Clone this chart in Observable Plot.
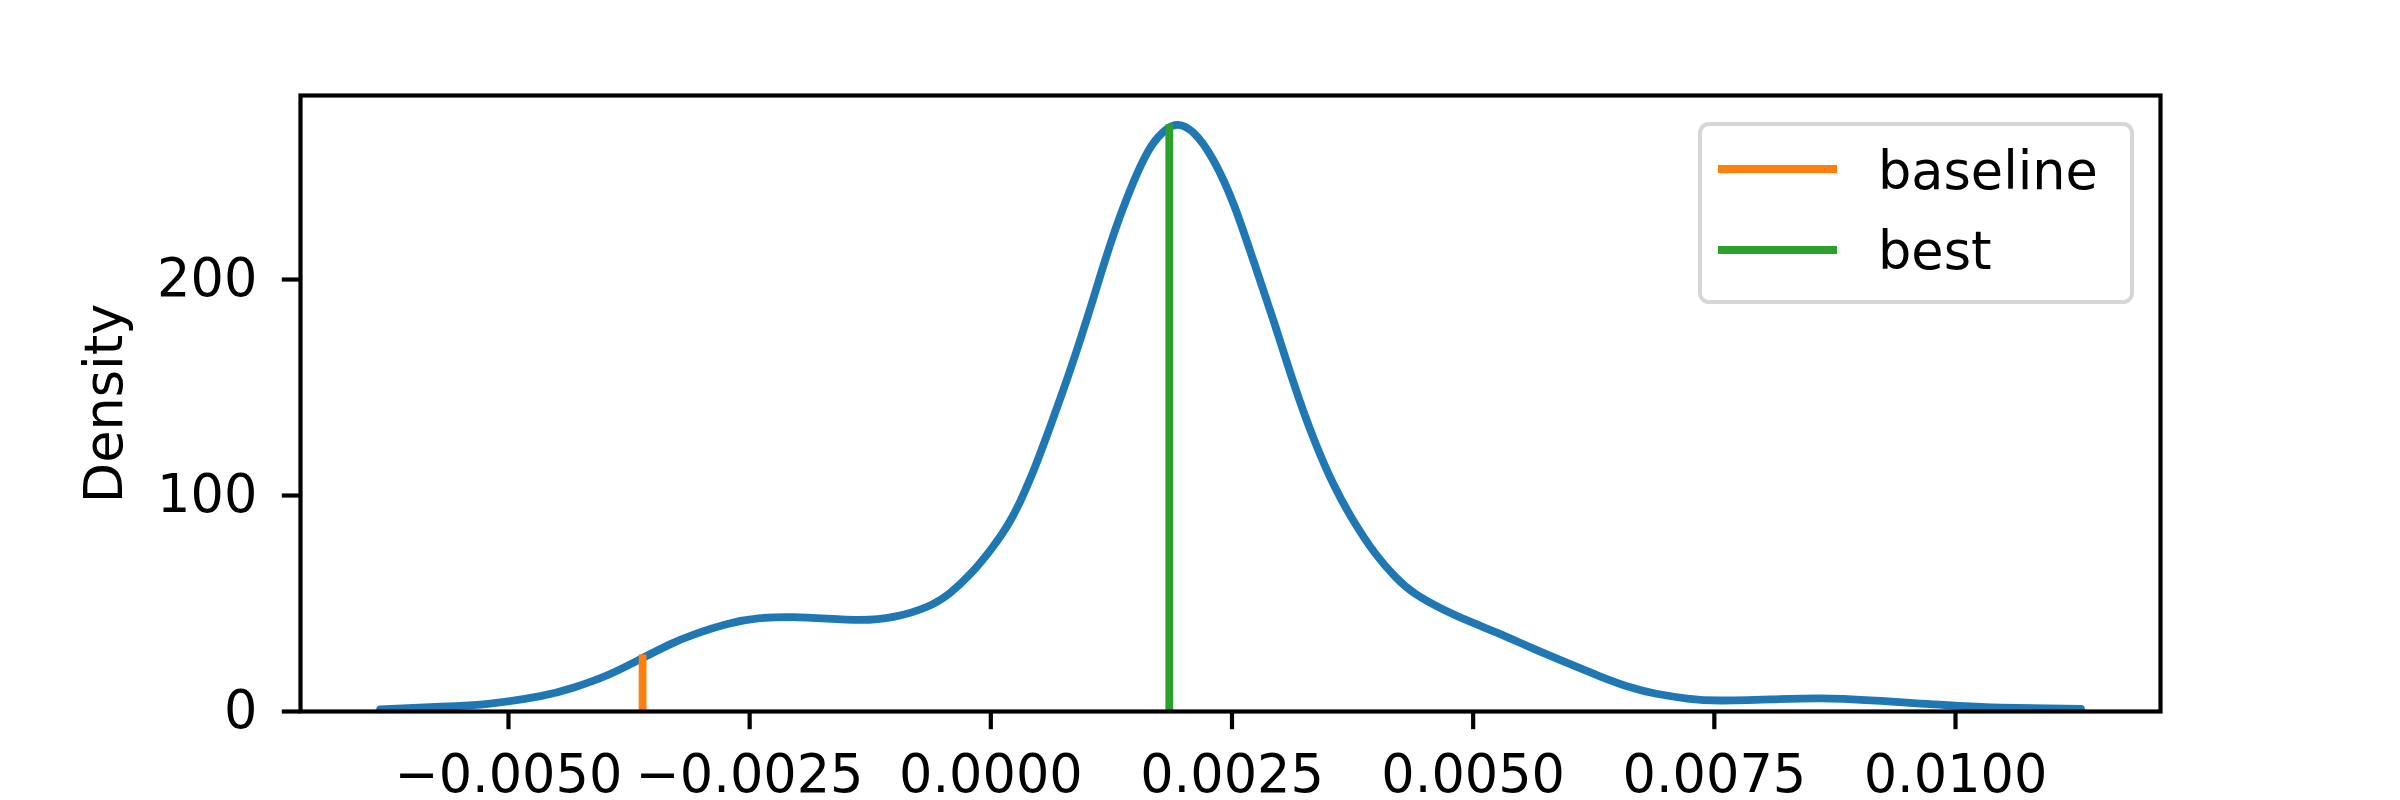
<!DOCTYPE html>
<html>
<head>
<meta charset="utf-8">
<script src="https://cdn.jsdelivr.net/npm/d3@7"></script>
<script src="https://cdn.jsdelivr.net/npm/@observablehq/plot@0.6"></script>
<style>
  html, body { margin: 0; padding: 0; background: #fff; }
  #wrap { position: relative; width: 2400px; height: 800px; font-family: "DejaVu Sans", sans-serif; }
  #legend { position: absolute; left: 1698px; top: 122px; width: 436px; height: 182px; box-sizing: border-box;
            border: 4.2px solid #d6d6d6; border-radius: 11px; background: rgba(255,255,255,0.8); }
  .sw { position: absolute; left: 1718px; width: 119px; height: 7.8px; }
  .lt { position: absolute; left: 1878px; font-size: 52.5px; line-height: 52.5px; color: #000; white-space: nowrap; }
</style>
</head>
<body>
<div id="wrap"></div>
<script>
// KDE curve samples
const kdeX = [-0.00633, -0.00570, -0.00519, -0.00467, -0.00433, -0.00397, -0.00363, -0.00332, -0.00308,
  -0.00273, -0.00239, -0.00205, -0.00170, -0.00135, -0.00101, -0.00066, -0.00042, -0.00021,
  0.00000, 0.00021, 0.00042, 0.00062, 0.00083, 0.00104, 0.00124, 0.00145, 0.00166, 0.00183,
  0.00194, 0.00210, 0.00231, 0.00252, 0.00272, 0.00293, 0.00314, 0.00335, 0.00356,
  0.00377, 0.00398, 0.00419, 0.00440, 0.00470, 0.00500, 0.00530, 0.00563, 0.00598, 0.00632,
  0.00663, 0.00690, 0.00722, 0.00756, 0.00808, 0.00860, 0.00912, 0.00964, 0.01000, 0.01047, 0.01130];
const kdeDensity = [1.0, 2.2, 3.7, 7.1, 11.0, 16.9, 24.3, 31.2, 35.6,
  40.5, 43.2, 43.7, 43.0, 42.4, 43.8, 48.5, 55.0, 63.8,
  75.0, 89.0, 109.0, 132.5, 159.0, 188.0, 216.5, 242.0, 261.5, 269.8,
  271.6, 268.0, 255.0, 234.5, 209.0, 181.0, 152.0, 126.0, 104.5,
  87.5, 73.5, 62.5, 54.5, 47.0, 41.0, 35.5, 29.0, 22.4, 16.2,
  11.2, 8.2, 6.0, 5.1, 5.6, 6.1, 5.2, 3.6, 2.7, 1.8, 1.2];

// Marker lines
const markerNames = ["baseline", "best"];
const markerX = [-0.00361, 0.00185];
const markerTop = [26.2, 271.6];
const markerColors = ["#ff7f0e", "#2ca02c"];

// Axis ticks
const xTicks = [-0.005, -0.0025, 0, 0.0025, 0.005, 0.0075, 0.01];
const yTicks = [0, 100, 200];
const xDomain = [-0.007156, 0.012125];
const yDomain = [0, 285.2];

const kde = kdeX.map((x, i) => ({x, d: kdeDensity[i]}));
const markers = markerNames.map((name, i) => ({name, x: markerX[i], top: markerTop[i], color: markerColors[i]}));

const plot = Plot.plot({
  width: 2400,
  height: 800,
  marginLeft: 300,
  marginRight: 240,
  marginTop: 95,
  marginBottom: 89,
  style: {fontFamily: "DejaVu Sans", fontSize: "52.5px", background: "white", color: "black", overflow: "visible"},
  x: {domain: xDomain},
  y: {domain: yDomain},
  marks: [
    Plot.line(kde, {x: "x", y: "d", stroke: "#1f77b4", strokeWidth: 7.8, curve: "natural"}),
    ...markers.map(m => Plot.ruleX([m], {x: "x", y1: 0, y2: "top", stroke: m.color, strokeWidth: 7.8})),
    Plot.axisX({ticks: xTicks, tickFormat: d3.format(".4f"), tickSize: 18.2, tickPadding: 25, strokeWidth: 4.2, label: null}),
    Plot.axisY({ticks: yTicks, tickFormat: d3.format("d"), tickSize: 18.2, tickPadding: 25, strokeWidth: 4.2,
      label: "Density", labelAnchor: "center", labelOffset: 216, labelArrow: "none"}),
    Plot.frame({stroke: "black", strokeWidth: 4.2})
  ]
});

const wrap = document.getElementById("wrap");
wrap.appendChild(plot);

// Legend (HTML overlay, matplotlib-style upper right)
const legend = document.createElement("div");
legend.id = "legend";
wrap.appendChild(legend);
const swatchY = [169, 250];
const textBaseline = [189, 269];
markers.forEach((m, i) => {
  const sw = document.createElement("div");
  sw.className = "sw";
  sw.style.top = (swatchY[i] - 3.9) + "px";
  sw.style.background = m.color;
  wrap.appendChild(sw);
  const t = document.createElement("div");
  t.className = "lt";
  t.style.top = (textBaseline[i] - 44.4) + "px";
  t.textContent = m.name;
  wrap.appendChild(t);
});
</script>
</body>
</html>
